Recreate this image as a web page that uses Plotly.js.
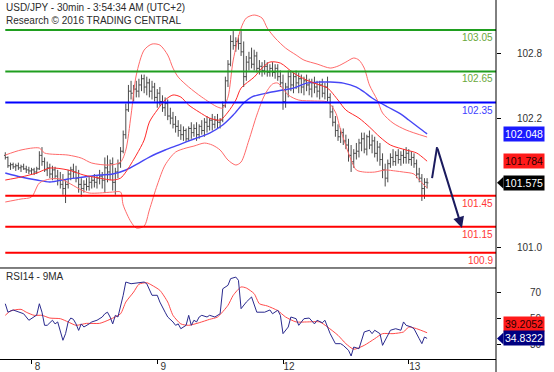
<!DOCTYPE html>
<html>
<head>
<meta charset="utf-8">
<script src="https://cdn.plot.ly/plotly-3.0.1.min.js"></script>
<style>html,body{margin:0;padding:0;background:#fff;}#chart{width:554px;height:372px;}</style>
</head>
<body>
<div id="chart"></div>
<script>
// ---------------- DATA ----------------
const titleLine1 = "USD/JPY - 30min - 3:54:34 AM (UTC+2)";
const titleLine2 = "Research \u00A9 2016 TRADING CENTRAL";
const rsiTitle = "RSI14 - 9MA";

// 30-minute bars (index 0 = 7th 19:00 ... index 161 = 13th 03:30)
const barOpen = [101.84,101.82,101.74,101.75,101.73,101.74,101.72,101.73,101.71,101.70,101.69,101.70,101.68,101.71,101.84,101.78,101.70,101.72,101.66,101.70,
101.64,101.60,101.56,101.52,101.56,101.66,101.70,101.68,101.62,101.56,101.52,101.56,101.54,101.58,101.60,101.58,101.62,101.64,101.60,101.72,
101.68,101.76,101.58,101.68,101.76,101.88,102.04,102.28,102.46,102.44,102.48,102.46,102.52,102.58,102.50,102.54,102.46,102.50,102.40,102.44,
102.36,102.30,102.34,102.22,102.20,102.14,102.12,102.08,102.04,102.08,102.00,102.10,102.06,102.10,102.04,102.12,102.08,102.16,102.12,102.18,
102.14,102.18,102.16,102.18,102.32,102.56,102.72,102.94,102.90,102.94,102.92,102.84,102.60,102.74,102.78,102.72,102.80,102.68,102.70,102.66,
102.70,102.64,102.68,102.64,102.68,102.60,102.54,102.36,102.50,102.60,102.52,102.60,102.54,102.58,102.50,102.56,102.52,102.48,102.54,102.50,
102.46,102.52,102.44,102.50,102.40,102.26,102.16,102.08,102.02,102.06,101.98,101.94,101.84,101.78,101.86,101.88,101.96,102.00,101.90,102.02,
101.94,101.98,101.86,101.92,101.80,101.70,101.62,101.76,101.82,101.78,101.84,101.80,101.84,101.82,101.86,101.80,101.82,101.76,101.66,101.62,
101.52,101.58];
const barHigh = [101.87,101.83,101.77,101.77,101.76,101.77,101.75,101.76,101.74,101.73,101.72,101.72,101.73,101.88,101.92,101.82,101.78,101.76,101.74,101.73,
101.70,101.68,101.66,101.60,101.70,101.73,101.76,101.74,101.70,101.62,101.60,101.62,101.63,101.64,101.66,101.65,101.70,101.68,101.82,101.84,
101.80,101.82,101.72,101.80,101.92,102.08,102.34,102.52,102.56,102.52,102.56,102.58,102.62,102.62,102.60,102.58,102.56,102.54,102.48,102.50,
102.42,102.40,102.38,102.30,102.26,102.22,102.18,102.14,102.12,102.10,102.12,102.16,102.14,102.16,102.14,102.18,102.20,102.22,102.20,102.24,
102.22,102.24,102.20,102.36,102.60,102.76,103.00,103.04,102.98,103.00,103.04,102.94,102.80,102.84,102.88,102.86,102.84,102.76,102.74,102.76,
102.74,102.72,102.74,102.72,102.72,102.66,102.62,102.54,102.66,102.66,102.64,102.66,102.64,102.62,102.60,102.62,102.58,102.58,102.60,102.56,
102.56,102.58,102.54,102.60,102.44,102.32,102.22,102.14,102.10,102.10,102.04,102.00,101.94,101.90,101.96,102.00,102.06,102.06,102.04,102.08,
102.04,102.02,101.98,101.96,101.86,101.76,101.80,101.86,101.90,101.88,101.90,101.88,101.90,101.92,101.90,101.88,101.86,101.80,101.72,101.66,
101.62,101.62];
const barLow = [101.80,101.72,101.70,101.71,101.69,101.70,101.68,101.70,101.67,101.66,101.66,101.65,101.66,101.70,101.74,101.68,101.64,101.62,101.60,101.61,
101.55,101.52,101.46,101.38,101.52,101.60,101.62,101.58,101.48,101.44,101.48,101.50,101.50,101.52,101.53,101.52,101.56,101.52,101.48,101.58,
101.60,101.50,101.46,101.62,101.72,101.86,102.00,102.26,102.38,102.36,102.40,102.40,102.46,102.44,102.42,102.40,102.38,102.36,102.30,102.32,
102.26,102.22,102.18,102.14,102.10,102.06,102.02,101.99,101.98,101.97,101.98,102.00,102.02,101.98,102.00,102.04,102.02,102.06,102.08,102.08,
102.10,102.10,102.10,102.16,102.30,102.50,102.70,102.86,102.84,102.86,102.80,102.50,102.56,102.66,102.68,102.66,102.64,102.62,102.60,102.62,
102.60,102.60,102.60,102.58,102.56,102.50,102.28,102.30,102.40,102.46,102.44,102.48,102.44,102.44,102.42,102.46,102.42,102.40,102.44,102.40,
102.38,102.40,102.38,102.36,102.20,102.12,102.02,101.98,101.96,101.94,101.90,101.78,101.68,101.72,101.80,101.82,101.88,101.86,101.84,101.90,
101.86,101.82,101.78,101.74,101.62,101.54,101.58,101.72,101.74,101.74,101.76,101.74,101.76,101.76,101.76,101.74,101.72,101.62,101.58,101.40,
101.42,101.52];
const barClose = [101.82,101.74,101.75,101.73,101.74,101.72,101.73,101.71,101.70,101.69,101.70,101.68,101.71,101.84,101.78,101.70,101.72,101.66,101.70,101.64,
101.60,101.56,101.52,101.56,101.66,101.70,101.68,101.62,101.56,101.52,101.56,101.54,101.58,101.60,101.58,101.62,101.64,101.60,101.72,101.68,
101.76,101.58,101.68,101.76,101.88,102.04,102.28,102.46,102.44,102.48,102.46,102.52,102.58,102.50,102.54,102.46,102.50,102.40,102.44,102.36,
102.30,102.34,102.22,102.20,102.14,102.12,102.08,102.04,102.08,102.00,102.10,102.06,102.10,102.04,102.12,102.08,102.16,102.12,102.18,102.14,
102.18,102.16,102.18,102.32,102.56,102.72,102.94,102.90,102.94,102.92,102.84,102.60,102.74,102.78,102.72,102.80,102.68,102.70,102.66,102.70,
102.64,102.68,102.64,102.68,102.60,102.54,102.36,102.50,102.60,102.52,102.60,102.54,102.58,102.50,102.56,102.52,102.48,102.54,102.50,102.46,
102.52,102.44,102.50,102.40,102.26,102.16,102.08,102.02,102.06,101.98,101.94,101.84,101.78,101.86,101.88,101.96,102.00,101.90,102.02,101.94,
101.98,101.86,101.92,101.80,101.70,101.62,101.76,101.82,101.78,101.84,101.80,101.84,101.82,101.86,101.80,101.82,101.76,101.66,101.62,101.52,
101.58,101.575];

// Bollinger bands and moving averages (bar index, value)
const bbUpperIdx = [0,6,13,15,24,29,33,40,44,46,48,50,53,56,59,62,64,66,70,75,81,83,85,87,90,92,95,98,100,103,107,111,114,119,124,127,130,133,135,137,139,142,144,148,153,161];
const bbUpperVal = [101.843,101.892,101.911,101.863,101.843,101.814,101.766,101.747,101.776,101.892,102.229,102.616,102.857,102.915,102.905,102.809,102.683,102.596,102.500,102.403,102.307,102.297,102.403,102.760,103.069,103.166,103.195,103.166,103.069,102.973,102.876,102.809,102.760,102.722,102.683,102.702,102.741,102.780,102.760,102.683,102.519,102.374,102.249,102.152,102.085,102.017];
const bbMidIdx = [0,6,12,17,24,30,36,41,44,46,50,53,55,58,61,64,67,70,74,78,82,85,88,90,95,98,101,105,110,115,120,123,127,130,135,139,143,147,153,157,161];
const bbMidVal = [101.602,101.631,101.670,101.718,101.699,101.650,101.621,101.602,101.621,101.679,101.843,101.988,102.162,102.278,102.374,102.423,102.403,102.326,102.258,102.200,102.181,102.258,102.374,102.490,102.596,102.683,102.741,102.731,102.635,102.567,102.519,102.490,102.374,102.278,102.200,102.114,102.017,101.940,101.892,101.863,101.784];
const bbLowerIdx = [0,6,10,13,17,21,25,29,32,36,41,44,45,48,50,53,55,58,61,65,69,72,76,79,82,85,88,90,93,96,99,102,104,108,112,118,123,126,128,132,134,137,141,145,149,152,156,158,161];
const bbLowerVal = [101.390,101.419,101.438,101.573,101.612,101.612,101.563,101.506,101.477,101.477,101.486,101.486,101.361,101.197,101.139,101.158,101.313,101.554,101.747,101.872,101.911,101.930,101.959,101.940,101.892,101.795,101.747,101.776,101.988,102.229,102.423,102.529,102.538,102.423,102.374,102.365,102.355,102.258,102.085,101.795,101.699,101.679,101.679,101.699,101.689,101.679,101.660,101.602,101.525];
const maBlueIdx = [0,6,12,17,24,30,36,41,46,51,55,61,66,72,78,83,87,91,94,100,106,110,115,120,124,129,134,137,140,146,151,154,158,161];
const maBlueVal = [101.670,101.631,101.602,101.583,101.612,101.631,101.650,101.660,101.699,101.766,101.824,101.892,101.940,101.998,102.056,102.133,102.229,102.345,102.403,102.442,102.471,102.490,102.538,102.548,102.548,102.538,102.500,102.452,102.394,102.307,102.239,102.181,102.104,102.048];

// Support / resistance levels
const levelValues = [103.05, 102.65, 102.35, 101.45, 101.15, 100.9];
const levelLabels = ["103.05", "102.65", "102.35", "101.45", "101.15", "100.9"];

// Forecast arrow path (bar index, price)
const forecastIdx = [162.9, 164.8, 174.3];
const forecastVal = [101.62, 101.92, 101.14];

// Last-value tags
const tagBlueMA = 102.048, tagRedMA = 101.784, tagPrice = 101.575;
const tagRSI = 34.8322, tagRSIMA = 39.2052;

// RSI14 and its 9-period MA (bar index, value)
const rsiIdx = [0,1,3,5,7,9,11,12,13,14,15,16,18,19,20,22,23,24,25,26,27,28,29,30,32,33,35,37,38,39,40,41,42,43,45,46,48,50,53,54,55,56,58,59,61,62,64,65,66,67,69,70,71,72,73,74,75,77,78,80,82,83,85,86,88,89,90,92,94,95,96,99,101,102,104,105,106,108,109,111,112,114,116,118,119,121,122,123,124,126,128,129,131,132,133,135,137,139,140,141,143,144,146,147,149,151,152,153,155,156,158,159,160,161];
const rsiVal = [61.5,55,56.7,55,53.8,48.8,51.3,52.8,61.5,55,44.9,44.9,48.8,46,47.5,33.4,38.5,47.5,50.5,49.5,46,41,46,43.6,46,47.5,48.8,51.3,53.8,55,51.3,46,52.6,51.3,68,78.2,76.9,77.5,78.2,76.9,73,68,68,62.8,55,51.3,47.5,44.9,46,42.3,44.9,52.6,44.9,48.8,47.5,51.3,52.6,51.3,52.6,51.3,53.8,73,75.7,80.8,82,79.5,57.7,62.8,66.7,60.3,55,55,56.7,53.8,56.5,52.6,38.5,43.6,51.3,50,44.9,50,50.5,46,48.8,46.9,48.8,43.6,38.5,30.8,30.8,29.5,25.7,21.3,28.2,26.9,39.8,41.1,38.5,41.1,38.5,29.5,37.2,41.1,42.3,41.1,47.5,44.9,43.6,42.3,34.6,30.8,35.9,34.8322];
const rsiMaIdx = [0,2,6,8,11,14,17,21,24,27,31,36,40,44,46,49,51,54,56,59,62,64,67,70,74,78,81,85,87,90,92,95,97,100,104,107,111,115,120,123,127,130,133,137,141,144,148,152,154,157,161];
const rsiMaVal = [52.6,56,57.2,55,52.6,52.6,50.5,50,47.5,44.9,46.4,46.4,49.5,53.8,62.8,70.5,76.5,77.7,75.7,71.8,62.8,52.6,46,44.9,46.9,49.5,51.3,60.3,68,74.4,73.6,69.2,61.5,59.8,56.2,51.3,47.5,47.5,47.5,43.6,37.2,30.8,26.5,29.5,34.6,38.5,38.5,39.8,43.6,42.3,39.2052];

// Axis ticks
const dayTickIdx = [10, 58, 106, 154];
const dayTickText = ["8", "9", "12", "13"];
const priceTickVals = [102.825, 102.2, 100.95];
const priceTickText = ["102.8", "102.2", "101.0"];
const rsiTickVals = [70, 50, 30];

// ---------------- STYLE / LAYOUT ----------------
const FONT = 'Liberation Sans, Arial, sans-serif';
const levelColors = ['#1f9e1f', '#1f9e1f', '#0000ff', '#ff0000', '#ff0000', '#ff0000'];
const levelTextColors = ['#6aa83a', '#6aa83a', '#4040ff', '#ff3535', '#ff3535', '#ff3535'];
const X_RANGE = [-2.02, 187.3];
const Y_RANGE = [100.753, 103.34];
const RSI_RANGE = [19, 89];
const SPLIT = 0.2535;
const barX = barClose.map((_, i) => i);

const traces = [
  {type: 'ohlc', x: barX, open: barOpen, high: barHigh, low: barLow, close: barClose,
   xaxis: 'x', yaxis: 'y', tickwidth: 0.5,
   increasing: {line: {color: '#4a4a4a', width: 1}},
   decreasing: {line: {color: '#4a4a4a', width: 1}}, hoverinfo: 'skip'},
  {type: 'scatter', mode: 'lines', x: maBlueIdx, y: maBlueVal, xaxis: 'x', yaxis: 'y',
   line: {color: '#4646f5', width: 1.4, shape: 'spline', smoothing: 0.8}},
  {type: 'scatter', mode: 'lines', x: bbUpperIdx, y: bbUpperVal, xaxis: 'x', yaxis: 'y',
   line: {color: '#ff6a6a', width: 1, shape: 'spline', smoothing: 0.8}},
  {type: 'scatter', mode: 'lines', x: bbMidIdx, y: bbMidVal, xaxis: 'x', yaxis: 'y',
   line: {color: '#ff2a2a', width: 1, shape: 'spline', smoothing: 0.8}},
  {type: 'scatter', mode: 'lines', x: bbLowerIdx, y: bbLowerVal, xaxis: 'x', yaxis: 'y',
   line: {color: '#ff6a6a', width: 1, shape: 'spline', smoothing: 0.8}},
  {type: 'scatter', mode: 'lines', x: forecastIdx.slice(0, 2), y: forecastVal.slice(0, 2), xaxis: 'x', yaxis: 'y',
   line: {color: '#1b1b5e', width: 2}, cliponaxis: false},
  {type: 'scatter', mode: 'lines', x: rsiMaIdx, y: rsiMaVal, xaxis: 'x', yaxis: 'y2',
   line: {color: '#ff4a4a', width: 1, shape: 'spline', smoothing: 0.6}},
  {type: 'scatter', mode: 'lines', x: rsiIdx, y: rsiVal, xaxis: 'x', yaxis: 'y2',
   line: {color: '#2a2a8e', width: 1}}
];

const shapes = [];
levelValues.forEach((v, k) => {
  shapes.push({type: 'line', xref: 'x', yref: 'y', x0: 0, x1: X_RANGE[1], y0: v, y1: v,
               line: {color: levelColors[k], width: 2}, layer: 'above'});
});
// panel separator and right axis line
shapes.push({type: 'line', xref: 'paper', yref: 'paper', x0: 0, x1: 1, y0: SPLIT, y1: SPLIT, line: {color: '#000', width: 1}});
shapes.push({type: 'line', xref: 'paper', yref: 'paper', x0: 1, x1: 1, y0: -0.04, y1: 1, line: {color: '#000', width: 1}});
// pointers of the current-value tags
const PX = 1 / 496;
function pointer(yref, val, halfUnits, color) {
  return {type: 'path', xref: 'paper', yref: yref, fillcolor: color, line: {width: 0},
          path: `M ${1 + 1 * PX} ${val} L ${1 + 7.5 * PX} ${val + halfUnits} L ${1 + 7.5 * PX} ${val - halfUnits} Z`};
}
shapes.push(pointer('y', tagPrice, 6 / 103.6, '#000000'));
shapes.push(pointer('y2', tagRSI, 6 / 1.3, '#000080'));

const annotations = [
  {xref: 'paper', yref: 'paper', x: 4 * PX, y: (359 - 8) / 359, xanchor: 'left', yanchor: 'middle',
   text: titleLine1, showarrow: false, font: {family: FONT, size: 10, color: '#2b2b2b'}},
  {xref: 'paper', yref: 'paper', x: 4 * PX, y: (359 - 20.5) / 359, xanchor: 'left', yanchor: 'middle',
   text: titleLine2, showarrow: false, font: {family: FONT, size: 10, color: '#2b2b2b'}},
  {xref: 'paper', yref: 'paper', x: 4 * PX, y: (359 - 276) / 359, xanchor: 'left', yanchor: 'middle',
   text: rsiTitle, showarrow: false, font: {family: FONT, size: 10, color: '#2b2b2b'}},
  // forecast arrow head
  {xref: 'x', yref: 'y', axref: 'x', ayref: 'y', x: forecastIdx[2], y: forecastVal[2],
   ax: forecastIdx[1], ay: forecastVal[1], showarrow: true, arrowhead: 2, arrowsize: 1.1,
   arrowwidth: 2, arrowcolor: '#1b1b5e', text: ''}
];
levelValues.forEach((v, k) => {
  annotations.push({xref: 'paper', yref: 'y', x: 1, y: v, xanchor: 'right', yanchor: 'top',
    xshift: -1, yshift: 0, text: levelLabels[k], showarrow: false,
    font: {family: FONT, size: 10, color: levelTextColors[k]}});
});
function tag(yref, val, txt, bg, fg, yshift) {
  return {xref: 'paper', yref: yref, x: 1 + 7 * PX, y: val, xanchor: 'left', yanchor: 'middle',
          yshift: yshift || 0, text: txt, showarrow: false, bgcolor: bg, borderpad: 1,
          font: {family: FONT, size: 10.5, color: fg}};
}
annotations.push(tag('y', tagBlueMA, tagBlueMA.toFixed(3), '#1a1aff', '#ffffff'));
annotations.push(tag('y', tagRedMA, tagRedMA.toFixed(3), '#ff1a1a', '#2a0000'));
annotations.push(tag('y', tagPrice, tagPrice.toFixed(3), '#000000', '#ffffff'));
annotations.push(tag('y2', tagRSIMA, tagRSIMA.toFixed(4), '#ff1a1a', '#2a0000', 8.5));
annotations.push(tag('y2', tagRSI, tagRSI.toFixed(4), '#000080', '#ffffff'));

const layout = {
  width: 554, height: 372,
  margin: {l: 0, r: 58, t: 0, b: 13, pad: 0},
  paper_bgcolor: '#ffffff', plot_bgcolor: '#ffffff',
  showlegend: false,
  font: {family: FONT, size: 10, color: '#333333'},
  xaxis: {range: X_RANGE, anchor: 'y2', tickvals: dayTickIdx, ticktext: dayTickText,
          ticks: 'outside', ticklen: 4, tickcolor: '#000', showline: true, linecolor: '#000', linewidth: 1,
          showgrid: false, zeroline: false, rangeslider: {visible: false},
          ticklabelshift: 6, ticklabelstandoff: -6, tickfont: {family: FONT, size: 10, color: '#333'}},
  yaxis: {domain: [SPLIT, 1], range: Y_RANGE, side: 'right', anchor: 'x',
          tickvals: priceTickVals, ticktext: priceTickText, ticks: 'outside', ticklen: 4, tickcolor: '#000',
          showgrid: false, zeroline: false, showline: false, ticklabelstandoff: 14,
          tickfont: {family: FONT, size: 10, color: '#333'}},
  yaxis2: {domain: [0, SPLIT], range: RSI_RANGE, side: 'right', anchor: 'x',
           tickvals: rsiTickVals, ticks: 'outside', ticklen: 4, tickcolor: '#000',
           showgrid: false, zeroline: false, showline: false, ticklabelstandoff: 27,
           tickfont: {family: FONT, size: 10, color: '#333'}},
  shapes: shapes,
  annotations: annotations
};

Plotly.newPlot('chart', traces, layout, {staticPlot: true, displayModeBar: false});
</script>
</body>
</html>
